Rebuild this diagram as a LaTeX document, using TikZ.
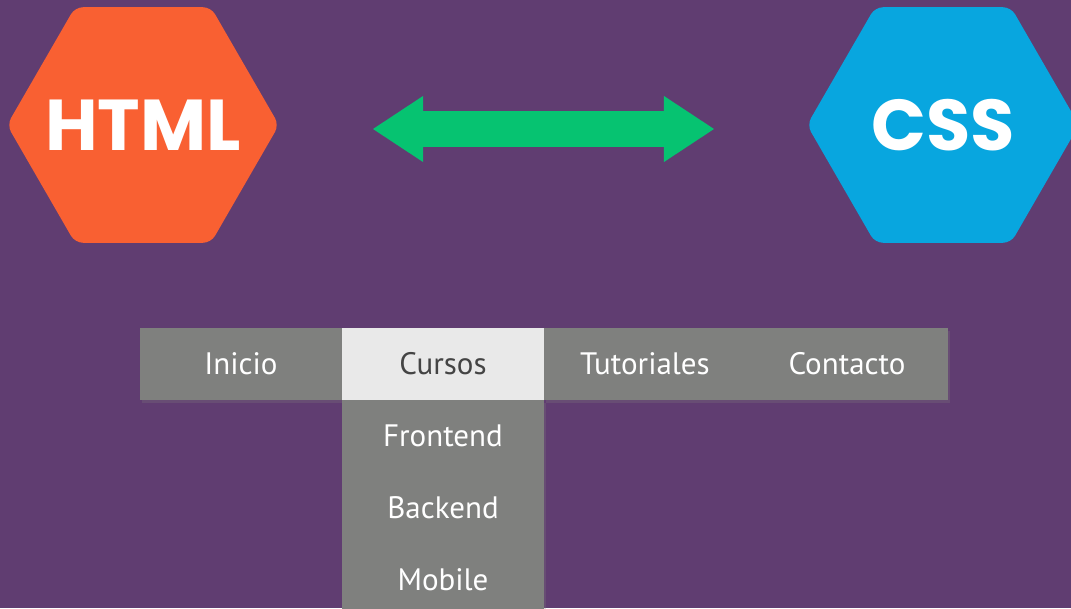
\documentclass[tikz,border=0pt]{standalone}
\usepackage{fontspec}
\setmainfont{PT Sans}
\newfontfamily\hexfont{Poppins}
\usetikzlibrary{positioning,shapes.geometric,arrows.meta,shadows}
\definecolor{bgpurple}{RGB}{96,61,113}
\definecolor{htmlorange}{RGB}{249,96,50}
\definecolor{cssblue}{RGB}{8,166,223}
\definecolor{arrowgreen}{RGB}{6,195,113}
\definecolor{menugray}{RGB}{127,128,126}
\definecolor{menulight}{RGB}{233,233,233}
\definecolor{menudark}{RGB}{68,68,68}
\tikzset{
  hexa/.style={regular polygon, regular polygon sides=6, minimum size=272pt,
    inner sep=0pt, outer sep=0pt, rounded corners=8pt},
  hexlabel/.style={text=white, inner sep=0pt,
    font=\hexfont\bfseries\fontsize{72}{72}\selectfont},
  menuitem/.style={rectangle, fill=menugray, minimum width=202pt,
    minimum height=72pt, inner sep=0pt, outer sep=0pt, text=white,
    font=\fontsize{31}{31}\selectfont},
  active/.style={fill=menulight, text=menudark},
  menushadow/.style={drop shadow={opacity=0.25, shadow xshift=2pt, shadow yshift=-3pt}},
  bigarrow/.style={draw=arrowgreen, line width=36pt,
    {Triangle[length=50pt,width=66pt,line width=0pt]}-{Triangle[length=50pt,width=66pt,line width=0pt]}}
}

\begin{document}
\begin{tikzpicture}[x=1pt,y=-1pt]
	\useasboundingbox (0,0) rectangle (1071,608);
	\fill[bgpurple] (0,0) rectangle (1071,608);
	\clip (0,0) rectangle (1071,608);
	% hexagons
	\node[hexa, fill=htmlorange, label={[hexlabel]center:HTML}] (html) at (143,125) {};
	\node[hexa, fill=cssblue, label={[hexlabel]center:CSS}] (css) at (943,125) {};
	\draw[bigarrow, shorten <=94pt, shorten >=93pt] ([yshift=-4pt]html.east) -- ([yshift=-4pt]css.west);
	% menu bar
	\node[menuitem, menushadow] (inicio) at (241,364) {Inicio};
	\node[menuitem, active, right=0pt of inicio] (cursos) {Cursos};
	\node[menuitem, menushadow, right=0pt of cursos] (tutoriales) {Tutoriales};
	\node[menuitem, menushadow, right=0pt of tutoriales] (contacto) {Contacto};
	% dropdown
	\node[menuitem, menushadow, below=0pt of cursos] (frontend) {Frontend};
	\node[menuitem, menushadow, below=0pt of frontend] (backend) {Backend};
	\node[menuitem, menushadow, below=0pt of backend] (mobile) {Mobile};
\end{tikzpicture}
\end{document}
